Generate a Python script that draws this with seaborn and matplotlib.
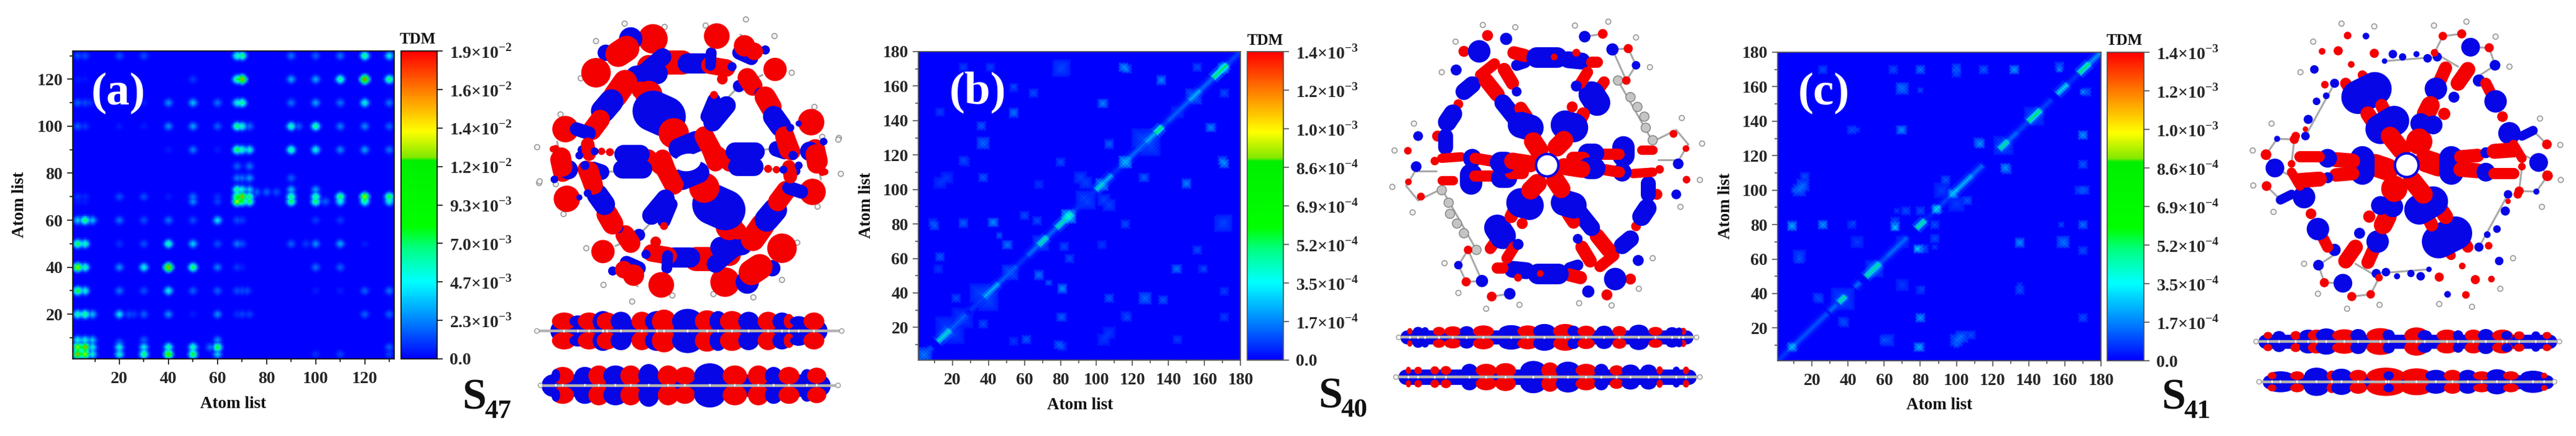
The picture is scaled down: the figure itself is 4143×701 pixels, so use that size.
import numpy as np
import matplotlib
matplotlib.use("Agg")
import matplotlib.pyplot as plt
import seaborn as sns
from matplotlib.colors import LinearSegmentedColormap
from matplotlib.patches import Circle, Ellipse

# ---- heatmap values, fractions of each panel's colorbar maximum ----
hot_atoms_a = [3, 6, 20, 30, 40, 50, 60, 68, 70, 90, 100, 110, 120, 130]
hot_values_a = [
    [.85, .70, .30, .42, .65, .50, .22, 0, 0, 0, .05, .07, 0, .07],
    [.70, .85, .30, .28, .35, .35, .50, 0, 0, 0, 0, 0, 0, .10],
    [.35, .40, .25, .10, .15, .03, .15, .05, .07, 0, 0, 0, .10, .10],
    [.50, .30, .12, .08, .28, .10, .10, .08, .08, 0, .03, .03, .10, .12],
    [.70, .35, .15, .30, .85, .45, .13, .06, .03, 0, .12, .10, 0, 0],
    [.45, .35, .05, .08, .35, .22, .08, .13, .08, .10, .15, .18, .03, 0],
    [.22, .42, .12, .08, .12, .08, .25, .08, .06, 0, .06, .06, 0, 0],
    [.03, .03, 0, 0, 0, .15, .07, .75, .50, .45, .45, .30, .38, .30],
    [.06, .04, .08, .08, .03, .12, .05, .55, .85, .40, .40, .45, .70, .50],
    [0, 0, 0, 0, .03, .13, .03, .48, .34, .37, .30, .14, .17, .12],
    [.10, .06, .03, .03, .15, .17, .10, .42, .33, .35, .40, .13, .14, .10],
    [.10, .08, .03, .03, .15, .20, .12, .30, .40, .12, .17, .12, .30, .12],
    [.03, .02, 0, 0, 0, .06, 0, .42, .85, .18, .18, .38, .90, .42],
    [.08, .08, .08, .08, 0, 0, 0, .35, .42, .12, .10, .12, .40, .27],
]
# x atom, y atom, value
extra_spots_a = [
    (9, 3, .30), (9, 6, .30), (3, 9, .30), (6, 9, .30), (9, 9, .22), (73, 68, .45), (73, 70, .42),
    (73, 90, .30), (73, 100, .12), (68, 73, .40), (70, 73, .30), (73, 73, .22), (68, 78, .13),
    (70, 78, .12), (73, 78, .16), (68, 83, .10), (73, 83, .12), (90, 78, .10), (90, 73, .20),
    (100, 73, .17), (76, 72, .10), (80, 72, .10), (84, 72, .08), (9, 60, .20), (9, 20, .20),
    (57, 6, .12), (8, 110, .05), (24, 20, .08), (26, 20, .06), (20, 8, .10), (30, 9, .10),
    (60, 9, .15), (72, 30, .08), (73, 20, .07), (96, 50, .06), (104, 68, .10), (93, 100, .10),
]

# start atom, end atom, value along the diagonal
diag_b = [
    (1, 8, .10), (12, 18, .32), (18, 27, .12), (30, 37, .07), (38, 45, .22), (46, 55, .12), (55, 62, .06),
    (62, 68, .13), (68, 72, .36), (72, 78, .12), (78, 86, .36), (86, 100, .06), (100, 103, .32),
    (103, 108, .22), (108, 116, .06), (116, 118, .20), (118, 128, .13), (128, 133, .22), (133, 136, .45),
    (136, 140, .08), (140, 152, .12), (152, 157, .22), (157, 165, .13), (165, 172, .45), (172, 180, .08),
]
# x atom, y atom, half size, value
blocks_b = [
    (116, 116, 3, .26), (84, 85, 3, .26), (103, 103, 3, .22), (4, 4, 4, .16), (36, 137, 2, .12),
    (54, 144, 2, .10), (54, 159, 2, .07), (13, 145, 1, .08), (104, 150, 2, .13), (117, 170, 2, .13),
    (136, 164, 2, .13), (171, 170, 2, .14), (80, 170, 4, .09), (171, 81, 4, .09), (150, 103, 2, .12),
    (171, 115, 2, .18), (80, 116, 2, .10), (37, 107, 1, .10), (17, 107, 3, .07), (27, 116, 2, .08),
    (107, 126, 2, .10), (10, 79, 2, .12), (26, 80, 2, .08), (43, 81, 2, .15), (13, 61, 2, .12),
    (12, 54, 1, .06), (46, 73, 1, .10), (51, 68, 2, .10), (68, 50, 2, .12), (74, 46, 1, .08),
    (81, 42, 2, .12), (107, 37, 2, .12), (127, 37, 3, .14), (22, 37, 2, .10), (37, 22, 1, .10),
    (81, 26, 2, .10), (117, 26, 2, .10), (171, 26, 2, .08), (61, 13, 2, .10), (54, 12, 2, .07),
    (81, 9, 2, .08), (104, 13, 3, .07), (145, 13, 2, .08), (107, 17, 3, .05), (145, 54, 2, .12),
    (160, 54, 1, .08), (85, 60, 2, .10), (156, 65, 2, .10), (171, 41, 2, .08), (127, 107, 2, .08),
    (91, 107, 3, .09), (104, 94, 3, .09), (163, 136, 2, .12), (171, 156, 2, .10), (68, 103, 2, .07),
    (67, 82, 2, .10), (60, 85, 2, .08), (93, 95, 4, .09), (125, 130, 5, .09), (40, 35, 5, .09),
    (16, 21, 5, .08), (24, 27, 4, .07), (52, 52, 4, .12), (155, 153, 3, .13), (145, 145, 3, .08), (70, 68, 3, .10),
]

diag_c = [
    (1, 7, .07), (8, 10, .22), (10, 28, .10), (30, 33, .13), (35, 38, .38), (44, 46, .13), (50, 57, .38),
    (58, 62, .10), (62, 72, .13), (78, 82, .38), (82, 88, .04), (88, 90, .28), (92, 97, .08), (97, 100, .25),
    (100, 108, .22), (108, 114, .13), (124, 128, .38), (128, 133, .13), (133, 140, .08), (140, 146, .42),
    (146, 152, .08), (156, 161, .28), (161, 167, .06), (168, 173, .42), (173, 180, .18),
]
blocks_c = [
    (9, 9, 2, .24), (89, 89, 2, .28), (98, 98, 2, .26), (37, 37, 6, .10), (143, 143, 5, .10), (126, 126, 5, .10),
    (9, 79, 2, .20), (26, 80, 2, .20), (66, 79, 2, .20), (43, 81, 1, .10), (10, 100, 1, .10), (15, 103, 3, .13),
    (13, 60, 2, .12), (24, 37, 2, .10), (38, 23, 2, .10), (62, 13, 3, .10), (80, 9, 2, .12), (100, 13, 3, .13),
    (108, 16, 2, .10), (80, 26, 2, .20), (170, 26, 2, .10), (78, 66, 1, .20), (82, 66, 2, .10), (88, 67, 1, .08),
    (88, 80, 2, .10), (88, 72, 2, .10), (70, 135, 2, .15), (70, 159, 3, .15), (112, 128, 2, .15), (127, 113, 2, .20),
    (170, 132, 2, .20), (172, 157, 2, .12), (170, 115, 2, .12), (171, 100, 2, .12), (170, 80, 2, .15), (158, 80, 1, .10),
    (157, 170, 1, .20), (132, 170, 2, .20), (100, 168, 2, .10), (42, 135, 2, .10), (160, 69, 2, .15), (135, 69, 2, .12),
    (170, 65, 2, .10), (106, 94, 2, .12), (70, 45, 3, .08), (80, 42, 2, .08), (135, 45, 1, .08), (55, 54, 4, .10),
    (70, 70, 3, .08), (100, 92, 4, .08),
]

ticks_a = ["0.0", "2.3×10$^{\\mathbf{-3}}$", "4.7×10$^{\\mathbf{-3}}$", "7.0×10$^{\\mathbf{-3}}$", "9.3×10$^{\\mathbf{-3}}$",
           "1.2×10$^{\\mathbf{-2}}$", "1.4×10$^{\\mathbf{-2}}$", "1.6×10$^{\\mathbf{-2}}$", "1.9×10$^{\\mathbf{-2}}$"]
ticks_bc = ["0.0", "1.7×10$^{\\mathbf{-4}}$", "3.5×10$^{\\mathbf{-4}}$", "5.2×10$^{\\mathbf{-4}}$", "6.9×10$^{\\mathbf{-4}}$",
            "8.6×10$^{\\mathbf{-4}}$", "1.0×10$^{\\mathbf{-3}}$", "1.2×10$^{\\mathbf{-3}}$", "1.4×10$^{\\mathbf{-3}}$"]

# ---- molecule drawings (crop pixels, 2.24 per image pixel) ----
# x0, y0, x1, y1, width, colour; each list is half a molecule, the other half is its point image
tubes_a = [
    (650, 225, 710, 225, 62, "r"), (730, 228, 790, 228, 52, "b"), (810, 235, 870, 245, 45, "r"), (815, 190, 812, 235, 28, "b"),
    (890, 240, 890, 240, 30, "b"), (915, 190, 960, 210, 35, "b"), (605, 140, 605, 140, 76, "r"), (835, 130, 835, 130, 66, "r"),
    (525, 140, 525, 140, 60, "b"), (435, 190, 435, 190, 42, "b"), (480, 195, 510, 175, 66, "r"), (400, 262, 400, 262, 76, "r"),
    (290, 465, 290, 465, 68, "r"), (1010, 180, 1010, 180, 30, "b"), (915, 310, 915, 310, 40, "b"), (1045, 250, 1045, 250, 60, "r"),
    (935, 165, 935, 165, 55, "r"), (970, 185, 970, 185, 45, "r"), (855, 285, 855, 285, 35, "r"), (590, 240, 590, 240, 60, "r"),
    (640, 205, 540, 290, 45, "b"), (545, 275, 620, 265, 55, "b"), (505, 295, 470, 345, 62, "r"), (455, 365, 425, 400, 62, "b"),
    (415, 430, 385, 470, 50, "r"), (375, 480, 330, 465, 35, "b"), (350, 540, 350, 540, 30, "b"), (590, 340, 590, 340, 70, "r"),
    (560, 325, 560, 325, 45, "r"), (605, 400, 650, 420, 105, "b"), (680, 480, 680, 480, 78, "r"), (700, 535, 760, 510, 55, "b"),
    (640, 570, 668, 645, 45, "r"), (790, 490, 830, 565, 50, "r"), (840, 555, 880, 590, 40, "r"), (590, 565, 640, 590, 30, "r"),
    (500, 555, 560, 555, 48, "b"), (495, 610, 570, 610, 48, "b"), (450, 548, 450, 548, 26, "r"), (420, 545, 420, 545, 24, "r"),
    (370, 520, 375, 555, 35, "r"), (395, 545, 395, 545, 26, "b"), (340, 560, 340, 560, 26, "b"), (390, 610, 420, 620, 40, "b"),
    (365, 610, 385, 660, 45, "r"), (300, 600, 300, 600, 30, "b"), (270, 575, 280, 620, 50, "r"), (245, 537, 245, 537, 22, "r"),
    (800, 420, 825, 360, 34, "b"), (825, 342, 825, 342, 26, "r"), (820, 440, 870, 380, 48, "b"), (945, 280, 965, 310, 50, "r"),
    (990, 335, 990, 335, 35, "b"), (1010, 350, 1030, 385, 55, "r"), (1040, 420, 1065, 455, 55, "b"), (1080, 490, 1095, 540, 50, "r"),
    (1110, 560, 1110, 560, 30, "b"), (1170, 545, 1170, 545, 50, "b"), (1190, 555, 1195, 590, 50, "r"), (1215, 620, 1215, 620, 25, "r"),
    (1220, 510, 1220, 510, 25, "b"), (1100, 460, 1100, 460, 26, "b"), (1175, 440, 1175, 440, 68, "r"), (1130, 445, 1130, 445, 20, "b"),
]
bonds_a = [(790, 440, 915, 310), (915, 310, 1000, 270), (600, 610, 420, 620), (560, 555, 410, 545), (920, 125, 1010, 180),
           (260, 510, 270, 570), (1040, 540, 1090, 560), (1215, 493, 1190, 560)]
hydrogens_a = [(503, 85), (647, 97), (795, 92), (940, 70), (1043, 130), (1105, 262), (1187, 385), (1275, 497), (1215, 493),
               (400, 148), (345, 282), (272, 412), (188, 530), (197, 653)]

tubes_b = [
    (655, 128, 655, 128, 36, "r"), (722, 140, 722, 140, 40, "b"), (570, 185, 570, 185, 36, "r"), (625, 185, 625, 185, 60, "b"),
    (542, 252, 542, 252, 36, "b"), (1005, 132, 1005, 132, 38, "b"), (1070, 122, 1070, 122, 32, "r"), (1105, 178, 1105, 178, 40, "b"),
    (1162, 175, 1162, 175, 30, "r"), (1190, 235, 1190, 235, 28, "b"), (1155, 290, 1155, 290, 28, "r"), (405, 490, 405, 490, 32, "b"),
    (368, 543, 368, 543, 25, "r"), (398, 600, 398, 600, 35, "b"), (465, 580, 465, 580, 28, "r"), (370, 655, 370, 655, 22, "r"),
    (415, 708, 415, 708, 26, "r"), (760, 235, 790, 225, 30, "b"), (750, 190, 790, 200, 35, "r"), (830, 205, 905, 205, 55, "b"),
    (945, 215, 995, 220, 45, "b"), (975, 190, 975, 190, 26, "r"), (1030, 225, 1050, 225, 30, "r"), (895, 205, 895, 205, 22, "r"),
    (680, 230, 630, 270, 30, "r"), (600, 305, 570, 330, 45, "b"), (550, 375, 550, 375, 32, "r"), (530, 410, 510, 440, 50, "b"),
    (475, 490, 475, 490, 36, "r"), (505, 490, 505, 530, 40, "b"), (650, 290, 690, 340, 40, "r"), (710, 370, 750, 420, 45, "b"),
    (715, 250, 745, 300, 35, "r"), (760, 330, 760, 330, 32, "b"), (775, 390, 795, 420, 35, "r"), (775, 450, 810, 460, 70, "b"),
    (820, 510, 840, 540, 50, "r"), (1075, 295, 1050, 330, 30, "r"), (1030, 340, 1050, 370, 70, "b"), (1000, 410, 985, 440, 35, "r"),
    (935, 450, 965, 460, 78, "b"), (930, 505, 905, 530, 50, "r"), (1015, 260, 990, 300, 30, "r"), (975, 310, 975, 310, 36, "b"),
    (960, 385, 960, 385, 36, "r"), (1210, 540, 1250, 540, 25, "r"), (1145, 530, 1145, 560, 60, "b"), (1070, 555, 1130, 555, 30, "r"),
    (1015, 550, 1040, 550, 52, "b"), (960, 570, 1000, 570, 35, "r"), (1180, 625, 1250, 620, 25, "r"), (1140, 620, 1140, 620, 50, "b"),
    (1070, 610, 1130, 620, 30, "r"), (1020, 605, 1040, 605, 58, "b"), (930, 600, 995, 610, 45, "r"),
]
bonds_b = [(1125, 290, 1250, 510), (1250, 510, 1335, 468), (1335, 468, 1378, 520), (1378, 520, 1345, 575), (1345, 575, 1270, 575),
           (1162, 175, 1105, 178), (1105, 178, 1155, 290), (1155, 290, 1190, 235), (1190, 235, 1162, 175), (1005, 132, 1070, 122)]
grey_atoms_b = [(1125, 290), (1170, 350), (1195, 385), (1220, 420), (1225, 460), (1250, 505)]
hydrogens_b = [(638, 90), (755, 98), (970, 92), (1090, 78), (540, 150), (490, 260), (1190, 135), (1240, 242), (390, 445), (320, 542),
               (1355, 425), (1428, 517)]

tubes_c = [
    (752, 128, 752, 128, 25, "r"), (818, 130, 818, 130, 22, "b"), (848, 192, 848, 192, 30, "r"), (718, 183, 718, 183, 30, "r"),
    (660, 185, 660, 185, 22, "r"), (632, 250, 632, 250, 28, "b"), (765, 232, 765, 232, 22, "r"), (1095, 130, 1095, 130, 28, "r"),
    (1163, 122, 1163, 122, 30, "r"), (1195, 170, 1195, 170, 50, "b"), (1262, 172, 1262, 172, 30, "r"), (1283, 235, 1283, 235, 35, "b"),
    (915, 195, 915, 195, 28, "b"), (885, 220, 885, 220, 18, "b"), (950, 205, 950, 205, 24, "b"), (1000, 195, 1000, 195, 20, "b"),
    (1040, 210, 1040, 210, 28, "b"), (1075, 205, 1075, 205, 30, "b"), (1065, 190, 1065, 190, 25, "r"), (705, 300, 705, 300, 30, "b"),
    (670, 305, 670, 305, 25, "r"), (675, 345, 675, 345, 22, "b"), (640, 365, 640, 365, 25, "b"), (610, 430, 610, 430, 30, "b"),
    (600, 490, 600, 490, 28, "b"), (600, 465, 600, 465, 18, "r"), (565, 490, 565, 490, 28, "r"), (745, 300, 770, 340, 30, "r"),
    (805, 270, 830, 295, 25, "r"), (790, 350, 850, 320, 90, "b"), (825, 410, 845, 440, 40, "r"), (875, 380, 890, 410, 35, "r"),
    (870, 465, 920, 435, 80, "b"), (905, 490, 945, 540, 50, "r"), (1105, 245, 1085, 290, 35, "r"), (1070, 320, 1070, 320, 60, "b"),
    (1050, 380, 1035, 410, 50, "r"), (1015, 445, 1015, 445, 55, "b"), (1010, 510, 1010, 510, 70, "r"), (1185, 250, 1150, 300, 40, "r"),
    (1135, 350, 1135, 350, 36, "b"), (1100, 410, 1100, 410, 40, "r"), (1060, 450, 1060, 450, 50, "b"), (1225, 290, 1225, 290, 40, "b"),
    (1250, 300, 1265, 330, 30, "r"), (1285, 365, 1285, 365, 60, "b"), (1310, 420, 1310, 420, 35, "r"), (1335, 480, 1335, 480, 60, "b"),
    (1380, 490, 1420, 470, 25, "b"), (1350, 520, 1380, 570, 25, "r"), (1035, 580, 1080, 595, 60, "r"), (1125, 570, 1125, 620, 65, "b"),
    (1160, 565, 1220, 560, 36, "r"), (1250, 550, 1250, 550, 36, "b"), (1280, 545, 1350, 540, 40, "r"), (1160, 610, 1220, 615, 40, "r"),
    (1250, 620, 1250, 620, 50, "b"), (1280, 625, 1350, 625, 30, "r"), (1470, 520, 1470, 520, 32, "r"), (1440, 585, 1440, 585, 50, "b"),
    (1472, 633, 1472, 633, 35, "r"), (1432, 690, 1432, 690, 20, "b"), (1370, 688, 1370, 688, 30, "r"), (1380, 600, 1380, 600, 25, "r"),
]
bonds_c = [(885, 220, 1075, 205), (1195, 170, 1262, 172), (1262, 172, 1283, 235), (1283, 235, 1215, 280), (1163, 122, 1095, 130),
           (1095, 130, 1065, 190), (1065, 190, 1150, 240), (1350, 540, 1440, 585), (1380, 600, 1370, 688), (1370, 688, 1432, 690),
           (1432, 690, 1472, 633), (1472, 633, 1440, 585), (1470, 520, 1420, 470), (705, 300, 600, 490)]
hydrogens_c = [(730, 85), (848, 95), (1063, 92), (1180, 78), (628, 150), (582, 260), (1285, 132), (1335, 240), (478, 445), (410, 542),
               (1445, 427), (1518, 522)]

# side views: x, width, height, colour of each lobe above and below the plane
side_a_top = [(285, 70, 60, "r"), (335, 50, 40, "b"), (375, 65, 60, "r"), (425, 60, 70, "b"), (440, 60, 60, "r"), (490, 60, 65, "b"),
              (565, 60, 65, "r"), (620, 70, 70, "b"), (645, 70, 80, "r"), (730, 90, 85, "b"), (800, 70, 75, "r"), (840, 50, 70, "b"),
              (890, 70, 70, "r"), (950, 60, 65, "b"), (1020, 60, 65, "r"), (1070, 55, 60, "b"), (1095, 30, 50, "r"), (1130, 50, 35, "b"),
              (1185, 60, 60, "r")]
side_a_bot = [(280, 65, 60, "r"), (255, 25, 45, "b"), (360, 60, 60, "b"), (410, 60, 70, "r"), (470, 70, 70, "b"), (525, 60, 70, "r"),
              (590, 60, 80, "b"), (660, 60, 70, "r"), (720, 60, 60, "r"), (810, 90, 85, "b"), (900, 70, 70, "r"), (985, 60, 70, "r"),
              (1040, 50, 60, "b"), (1095, 60, 60, "r"), (1160, 35, 45, "b"), (1195, 55, 55, "r")]
side_b_top = [(405, 30, 30, "b"), (375, 15, 22, "r"), (430, 22, 28, "b"), (480, 35, 30, "r"), (530, 50, 34, "r"), (580, 40, 35, "b"),
              (640, 60, 40, "r"), (740, 70, 42, "b"), (800, 60, 40, "r"), (860, 65, 50, "b"), (935, 70, 50, "r"), (965, 35, 38, "b"),
              (1010, 50, 38, "r"), (1075, 45, 38, "b"), (1130, 40, 36, "r"), (1200, 55, 45, "b"), (1260, 40, 30, "r"), (1320, 35, 28, "b"),
              (1360, 18, 24, "r"), (1345, 20, 26, "b")]
side_b_bot = [(370, 15, 25, "r"), (405, 22, 25, "r"), (465, 25, 28, "r"), (505, 30, 30, "r"), (590, 45, 45, "b"), (650, 60, 45, "r"),
              (720, 60, 50, "r"), (820, 75, 65, "b"), (880, 50, 55, "r"), (945, 70, 60, "b"), (1010, 60, 45, "r"), (1065, 40, 45, "b"),
              (1120, 40, 35, "r"), (1170, 50, 40, "b"), (1235, 45, 40, "b"), (1275, 18, 28, "r"), (1335, 20, 26, "b"), (1370, 18, 26, "r")]
side_c_top = [(465, 25, 24, "r"), (505, 35, 30, "b"), (565, 30, 30, "r"), (610, 50, 40, "b"), (640, 50, 40, "r"), (675, 60, 48, "b"),
              (740, 70, 42, "r"), (790, 45, 44, "b"), (870, 80, 50, "r"), (900, 35, 40, "b"), (1000, 70, 55, "r"), (1030, 40, 36, "b"),
              (1110, 60, 40, "r"), (1150, 30, 35, "b"), (1205, 50, 40, "r"), (1250, 45, 44, "b"), (1310, 60, 40, "r"), (1325, 30, 30, "b"),
              (1370, 30, 28, "r"), (1430, 25, 28, "b"), (1470, 25, 24, "r")]
side_c_bot = [(510, 70, 30, "b"), (480, 25, 24, "r"), (570, 40, 30, "r"), (640, 70, 55, "b"), (695, 30, 35, "r"), (730, 60, 48, "b"),
              (790, 50, 40, "r"), (890, 110, 55, "r"), (900, 30, 30, "b"), (1000, 90, 50, "r"), (1070, 60, 40, "b"), (1130, 50, 40, "r"),
              (1185, 50, 40, "b"), (1235, 50, 30, "r"), (1290, 60, 44, "b"), (1340, 45, 30, "r"), (1420, 70, 34, "b"), (1460, 18, 20, "r")]

W, H = 4143, 701
RED, BLUE = "#f40000", "#0606e6"
colors = {"r": RED, "b": BLUE}

sns.set_theme(style="white")
plt.rcParams["font.family"] = ["Liberation Serif", "DejaVu Serif"]
plt.rcParams["font.weight"] = "bold"
plt.rcParams["axes.labelweight"] = "bold"
plt.rcParams["mathtext.fontset"] = "custom"
plt.rcParams["mathtext.bf"] = "Liberation Serif:bold"
plt.rcParams["mathtext.rm"] = "Liberation Serif:bold"

tdm_cmap = LinearSegmentedColormap.from_list("tdm", [
    (0, "#0000ff"), (.12, "#0080ff"), (.25, "#00ffff"), (.36, "#00ff80"), (.43, "#00ff00"), (.645, "#00f000"),
    (.655, "#80e800"), (.74, "#ffff00"), (.87, "#ff8000"), (1, "#ff0000")])

# soft footprint of a peak on its neighbouring atoms
footprint = [(0, 0, 1), (1, 0, .65), (-1, 0, .65), (0, 1, .65), (0, -1, .65), (1, 1, .4), (1, -1, .4), (-1, 1, .4), (-1, -1, .4),
             (2, 0, .2), (-2, 0, .2), (0, 2, .2), (0, -2, .2), (2, 1, .1), (-2, 1, .1), (2, -1, .1), (-2, -1, .1),
             (1, 2, .1), (-1, 2, .1), (1, -2, .1), (-1, -2, .1)]


def put(m, x, y, v):
    if 1 <= x <= m.shape[1] and 1 <= y <= m.shape[0]:
        m[y - 1, x - 1] = max(m[y - 1, x - 1], v)


def matrix_a():
    m = np.zeros((132, 132))
    spots = [(x, y, hot_values_a[i][j]) for i, y in enumerate(hot_atoms_a) for j, x in enumerate(hot_atoms_a)]
    for x, y, v in spots + extra_spots_a:
        for dx, dy, k in footprint:
            put(m, x + dx, y + dy, v * k)
    return m


def matrix_diag(diag, blocks):
    m = np.zeros((180, 180))
    for a0, a1, v in diag:
        for a in range(a0, a1 + 1):
            put(m, a, a, v)
            for d, k in [(1, .55), (2, .22)]:
                put(m, a + d, a - d, v * k)
                put(m, a - d, a + d, v * k)
                put(m, a + d, a, v * k * .8)
                put(m, a, a + d, v * k * .8)
    for x, y, h, v in blocks:
        for dx in range(-h, h + 1):
            for dy in range(-h, h + 1):
                # fades toward the rim, every other atom weaker
                fade = 1 - .65 * max(abs(dx), abs(dy)) / (h + 1)
                k = 1 if (dx + dy) % 2 == 0 else .4
                put(m, x + dx, y + dy, v * k * fade)
    return np.maximum(m, m.T)


def px_axes(fig, x0, y0, x1, y1):
    return fig.add_axes([x0 / W, 1 - y1 / H, (x1 - x0) / W, (y1 - y0) / H])


def draw_panel(fig, data, vmax, box, cbox, ticks, majors, minors, edge):
    ax = px_axes(fig, *box)
    cax = px_axes(fig, *cbox)
    sns.heatmap(data, ax=ax, cbar_ax=cax, cmap=tdm_cmap, vmin=0, vmax=vmax, xticklabels=False, yticklabels=False,
                shading="gouraud")
    n = data.shape[0]
    ax.set_facecolor("#0000ff")
    ax.set_xlim(0, n - 1)
    ax.set_ylim(0, n - 1)
    for axis in (ax.xaxis, ax.yaxis):
        axis.set_ticks([a - 1 for a in majors])
        axis.set_ticks([a - 1 for a in minors], minor=True)
    ax.set_xticklabels([str(a) for a in majors], fontsize=20, fontweight="bold")
    ax.set_yticklabels([str(a) for a in majors], fontsize=20, fontweight="bold")
    ax.tick_params(which="major", length=6.5, width=1.2, color=edge, bottom=True, left=True, pad=5)
    ax.tick_params(which="minor", length=3.5, width=1.2, color=edge, bottom=True, left=True)
    ax.tick_params(axis="x", which="major", pad=8)
    for s in ax.spines.values():
        s.set_visible(True)
        s.set_color(edge)
        s.set_linewidth(1.3)
    cb = ax.collections[0].colorbar
    cb.set_ticks(np.linspace(0, vmax, 9))
    cb.set_ticklabels(ticks)
    cb.ax.tick_params(length=6.5, width=1.2, color=edge, labelsize=20, right=True, pad=8)
    for lab in cb.ax.get_yticklabels():
        lab.set_fontweight("bold")
    cb.outline.set_visible(True)
    cb.outline.set_edgecolor(edge)
    cb.outline.set_linewidth(1.3)


def draw_molecule(ov, tubes, bonds, hs, center, origin, grey_atoms=(), fat=1.3):
    cx, cy = center
    ox, oy = origin
    s = 1 / 2.24

    def P(x, y):
        return ox + x * s, oy + y * s

    def flip(x, y):
        return 2 * cx - x, 2 * cy - y

    for x0, y0, x1, y1 in bonds:
        for a, b in [((x0, y0), (x1, y1)), (flip(x0, y0), flip(x1, y1))]:
            (px0, py0), (px1, py1) = P(*a), P(*b)
            ov.plot([px0, px1], [py0, py1], color="#a8a8a8", lw=2.2, solid_capstyle="round", zorder=3)
    for x, y in hs:
        for q in [(x, y), flip(x, y)]:
            ov.add_patch(Circle(P(*q), 4.2, fc="#f4f4f4", ec="#9a9a9a", lw=1.2, zorder=4))
    for x, y in grey_atoms:
        for q in [(x, y), flip(x, y)]:
            ov.add_patch(Circle(P(*q), 7.5, fc="#c4c4c4", ec="#808080", lw=1, zorder=4))
    z = 5
    for x0, y0, x1, y1, w, c in tubes:
        for a, b in [((x0, y0), (x1, y1)), (flip(x0, y0), flip(x1, y1))]:
            (px0, py0), (px1, py1) = P(*a), P(*b)
            if (px0, py0) == (px1, py1):
                # atoms on the rim keep their size, only the lobes of the arms get fatter
                d = w * s * (fat if w > 40 else 1.1)
                ov.add_patch(Circle((px0, py0), d / 2, fc=colors[c], ec="none", zorder=z))
            else:
                ov.plot([px0, px1], [py0, py1], color=colors[c], lw=w * s * fat * .72, solid_capstyle="round", zorder=z)
        z += .01


def draw_side(ov, lobes, y, off, ends, origin):
    ox, oy = origin
    s = 1 / 2.24
    z = 5
    xs = [l[0] for l in lobes]
    x0, x1 = ox + (min(xs) - 10) * s, ox + (max(xs) + 10) * s
    # blue body the lobes sit on
    ov.plot([x0, x1], [oy + y * s] * 2, color=BLUE, lw=off * 2 * 1.15 * s * .72, solid_capstyle="round", zorder=4.5)
    for x, w, h, c in lobes:
        for sign in (-1, 1):
            ov.add_patch(Ellipse((ox + x * s, oy + (y + sign * off) * s), w * 1.25 * s, h * 1.05 * s, fc=colors[c], ec="none", zorder=z))
        z += .01
    px = [ox + e * s for e in ends]
    ov.plot(px, [oy + y * s] * 2, color="#b4b4b4", lw=3.2, zorder=8)
    for e in ends:
        ov.add_patch(Circle((ox + e * s, oy + y * s), 3.8, fc="#f4f4f4", ec="#9a9a9a", lw=1, zorder=9))
    for x, w, h, c in lobes:
        ov.add_patch(Circle((ox + x * s, oy + y * s), 2.2, fc="#f8f8f8", ec="#9a9a9a", lw=.5, zorder=9))


fig = plt.figure(figsize=(W / 100, H / 100), dpi=100, facecolor="white")

draw_panel(fig, matrix_a(), 1.0, (117, 82, 634, 577), (645, 82, 703, 577), ticks_a,
           [20, 40, 60, 80, 100, 120], [10, 30, 50, 70, 90, 110, 130], "#111111")
draw_panel(fig, matrix_diag(diag_b, blocks_b), 1.0, (1477, 83, 1995, 579), (2006, 83, 2064, 579), ticks_bc,
           [20, 40, 60, 80, 100, 120, 140, 160, 180], [10, 30, 50, 70, 90, 110, 130, 150, 170], "#555555")
draw_panel(fig, matrix_diag(diag_c, blocks_c), 1.0, (2859, 84, 3379, 580), (3389, 84, 3448, 580), ticks_bc,
           [20, 40, 60, 80, 100, 120, 140, 160, 180], [10, 30, 50, 70, 90, 110, 130, 150, 170], "#555555")

ov = fig.add_axes([0, 0, 1, 1], zorder=10)
ov.set_xlim(0, W)
ov.set_ylim(H, 0)
ov.axis("off")
ov.patch.set_alpha(0)

draw_molecule(ov, tubes_a, bonds_a, hydrogens_a, (735, 578), (780, 0), fat=1.4)
ov.add_patch(Ellipse((780 + 730 / 2.24, 585 / 2.24), 42, 28, angle=-8, fc="white", ec="none", zorder=7))
draw_side(ov, side_a_top, 1192, 35, (187, 1285), (780, 0))
draw_side(ov, side_a_bot, 1388, 35, (200, 1272), (780, 0))

draw_molecule(ov, tubes_b, bonds_b, hydrogens_b, (870, 595), (2100, 0), grey_atoms_b, fat=1.35)
ov.add_patch(Circle((2100 + 870 / 2.24, 595 / 2.24), 20, fc=BLUE, ec="none", zorder=7))
ov.add_patch(Circle((2100 + 870 / 2.24, 595 / 2.24), 16, fc="white", ec="none", zorder=7.1))
draw_side(ov, side_b_top, 1215, 22, (335, 1408), (2100, 0))
draw_side(ov, side_b_bot, 1358, 24, (325, 1420), (2100, 0))

draw_molecule(ov, tubes_c, bonds_c, hydrogens_c, (965, 595), (3440, 0), fat=1.35)
ov.add_patch(Circle((3440 + 965 / 2.24, 595 / 2.24), 21, fc=BLUE, ec="none", zorder=7))
ov.add_patch(Circle((3440 + 965 / 2.24, 595 / 2.24), 17, fc="white", ec="none", zorder=7.1))
draw_side(ov, side_c_top, 1230, 22, (422, 1515), (3440, 0))
draw_side(ov, side_c_bot, 1375, 22, (433, 1497), (3440, 0))

# panel letters, colorbar titles, axis titles, state labels
for x, y, s in [(190, 150, "(a)"), (1572, 148, "(b)"), (2933, 150, "(c)")]:
    ov.text(x, y, s, color="white", fontsize=54, fontweight="bold", ha="center", va="center", zorder=12)
for x, y in [(672, 63), (2035, 65), (3417, 66)]:
    ov.text(x, y, "TDM", color="#111111", fontsize=18, fontweight="bold", ha="center", va="center", zorder=12)
for x, y in [(375, 649), (1737, 651), (3119, 651)]:
    ov.text(x, y, "Atom list", color="#111111", fontsize=19.5, fontweight="bold", ha="center", va="center", zorder=12)
for x, y in [(32, 329), (1393, 330), (2775, 331)]:
    ov.text(x, y, "Atom list", color="#111111", fontsize=19.5, fontweight="bold", rotation=90, ha="center", va="center", zorder=12)
for x, y, sub, subx in [(743, 658, "47", 779), (2120, 656, "40", 2156), (3476, 658, "41", 3512)]:
    ov.text(x, y, "S", color="#111111", fontsize=50, fontweight="bold", ha="left", va="baseline", zorder=12)
    ov.text(subx, y + 14, sub, color="#111111", fontsize=31, fontweight="bold", ha="left", va="baseline", zorder=12)

fig.savefig("out.png", dpi=100, facecolor="white")
